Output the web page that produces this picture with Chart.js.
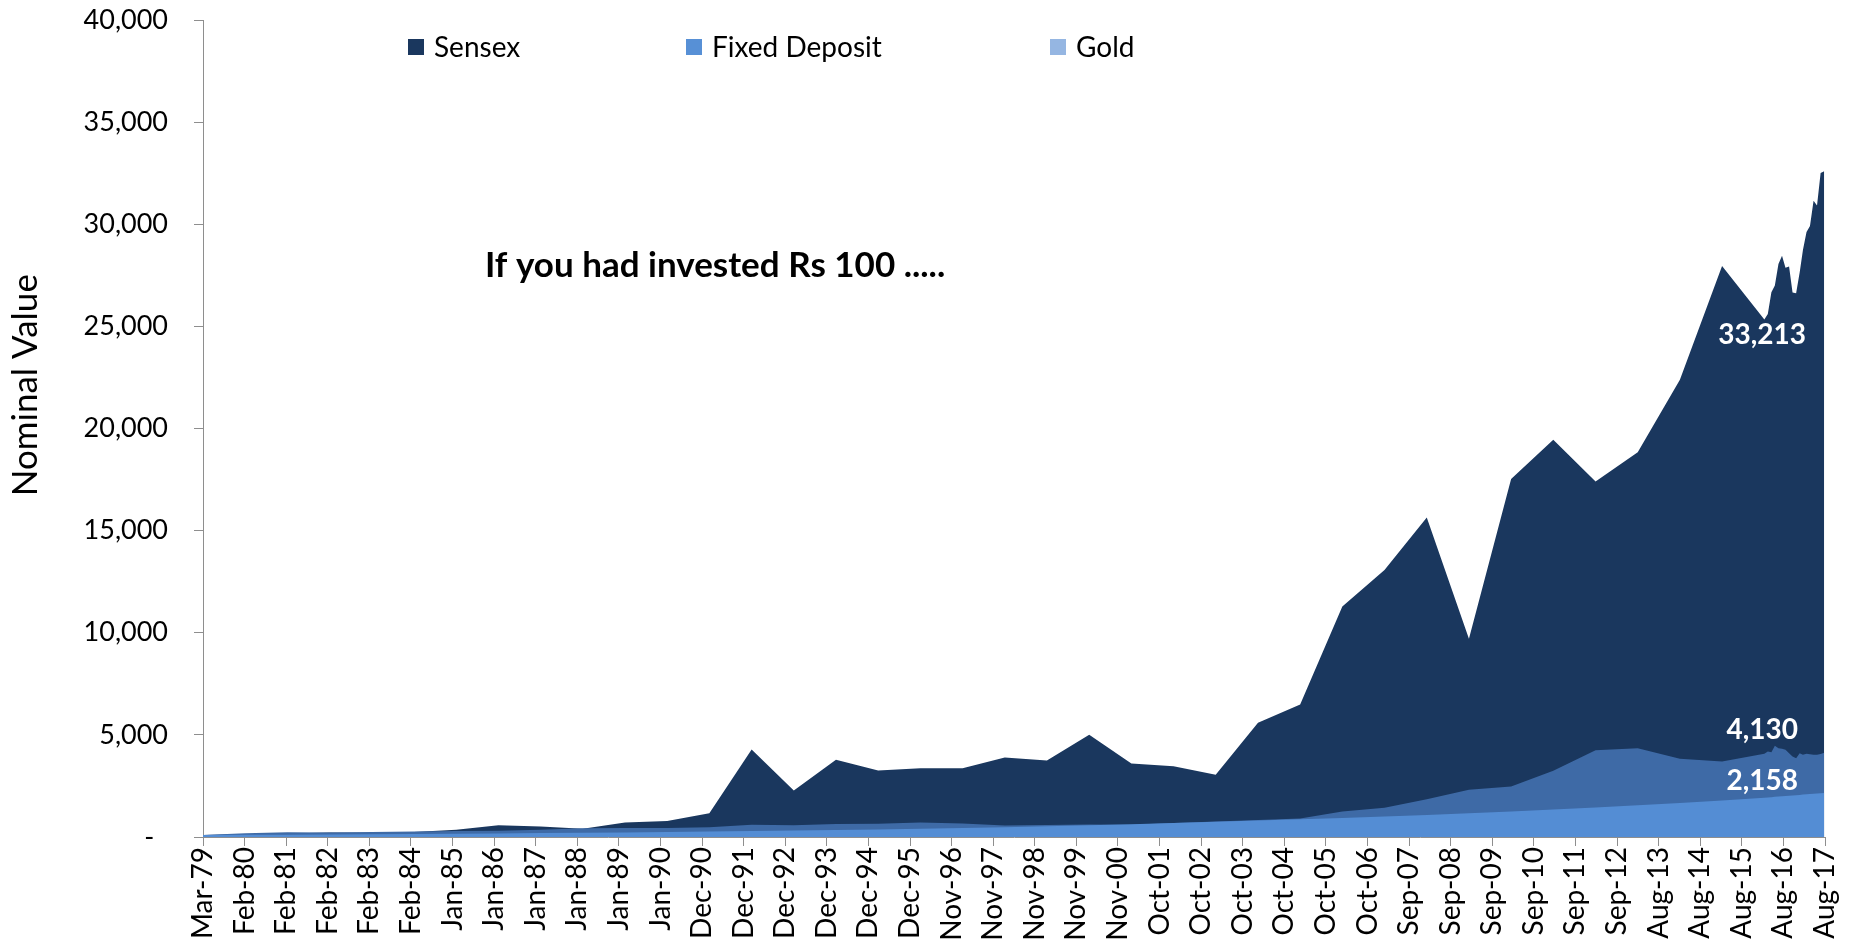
<!DOCTYPE html>
<html>
<head>
<meta charset="utf-8">
<title>If you had invested Rs 100</title>
<script src="https://cdn.jsdelivr.net/npm/chart.js@4.4.0/dist/chart.umd.min.js"></script>
<style>
  html, body { margin: 0; padding: 0; background: #fff; }
  canvas { display: block; }
</style>
</head>
<body>
<canvas id="chart" width="1849" height="946"></canvas>
<script>
// Observation dates: end of March each year, then monthly from Apr-16
const dates = [
  '1979-03', '1980-03', '1981-03', '1982-03', '1983-03', '1984-03', '1985-03', '1986-03',
  '1987-03', '1988-03', '1989-03', '1990-03', '1991-03', '1992-03', '1993-03', '1994-03',
  '1995-03', '1996-03', '1997-03', '1998-03', '1999-03', '2000-03', '2001-03', '2002-03',
  '2003-03', '2004-03', '2005-03', '2006-03', '2007-03', '2008-03', '2009-03', '2010-03',
  '2011-03', '2012-03', '2013-03', '2014-03', '2015-03', '2016-03',
  '2016-04', '2016-05', '2016-06', '2016-07', '2016-08', '2016-09', '2016-10', '2016-11',
  '2016-12', '2017-01', '2017-02', '2017-03', '2017-04', '2017-05', '2017-06', '2017-07',
  '2017-08'
];

// Value of Rs 100 invested in Mar-79
const sensex = [
  100, 129, 173, 218, 212, 245, 354, 574, 510, 398, 714, 781, 1168, 4285, 2281, 3779,
  3261, 3367, 3361, 3893, 3740, 5001, 3604, 3469, 3049, 5591, 6493, 11280, 13072, 15644,
  9709, 17528, 19445, 17404, 18836, 22386, 27957, 25342,
  25607, 26668, 26999, 28052, 28452, 27866, 27930, 26653, 26626, 27656, 28743, 29621,
  29918, 31146, 30922, 32515, 32600
];
const fixedDeposit = [
  100, 108, 116, 125, 135, 148, 161, 175, 190, 206, 224, 244, 266, 290, 316, 342,
  373, 406, 443, 483, 526, 574, 625, 682, 743, 810, 871, 936, 1006, 1082,
  1163, 1250, 1344, 1445, 1553, 1664, 1790, 1925,
  1938, 1952, 1966, 1979, 1993, 2007, 2021, 2034, 2048, 2062, 2075, 2089,
  2103, 2117, 2130, 2144, 2158
];
const gold = [
  100, 185, 230, 225, 250, 275, 290, 300, 350, 430, 435, 445, 480, 600, 575, 640,
  650, 715, 655, 560, 590, 610, 600, 690, 760, 830, 900, 1250, 1430, 1850,
  2315, 2477, 3245, 4250, 4350, 3832, 3700, 4077,
  4190, 4150, 4468, 4350, 4320, 4272, 4100, 3945, 3860, 4100, 4030, 4080,
  4050, 4030, 4030, 4060, 4130
];

// Excel date axis: one label every 360 days from the first date
const tickLabels = [
  'Mar-79', 'Feb-80', 'Feb-81', 'Feb-82', 'Feb-83', 'Feb-84', 'Jan-85', 'Jan-86', 'Jan-87', 'Jan-88',
  'Jan-89', 'Jan-90', 'Dec-90', 'Dec-91', 'Dec-92', 'Dec-93', 'Dec-94', 'Dec-95', 'Nov-96', 'Nov-97',
  'Nov-98', 'Nov-99', 'Nov-00', 'Oct-01', 'Oct-02', 'Oct-03', 'Oct-04', 'Oct-05', 'Oct-06', 'Sep-07',
  'Sep-08', 'Sep-09', 'Sep-10', 'Sep-11', 'Sep-12', 'Aug-13', 'Aug-14', 'Aug-15', 'Aug-16', 'Aug-17'
];
const tickStepDays = 360;

const seriesNames = ['Sensex', 'Fixed Deposit', 'Gold'];
const endLabels = ['33,213', '2,158', '4,130'];
const yTitle = 'Nominal Value';
const note = 'If you had invested Rs 100 .....';

const fontFamily = 'Lato, "Open Sans", sans-serif';
const axisGray = '#8e8e8e';
const colors = {
  sensex: '#1a375e',
  fd: '#548dd4',
  gold: '#3e6aa6',
  fdKey: '#5790d6',
  goldKey: '#95b6e2'
};

// days since the first observation (last day of each month)
function dayOf(d) {
  const [y, m] = d.split('-').map(Number);
  return Date.UTC(y, m, 0) / 86400000;
}
const day0 = dayOf(dates[0]);
const xs = dates.map(d => dayOf(d) - day0);
const toPoints = vals => vals.map((v, i) => ({ x: xs[i], y: v }));

// Excel-style labels, legend, title and note drawn on top of the chart
const overlay = {
  id: 'overlay',
  afterDraw(chart) {
    const { ctx, chartArea: a, scales: { x, y } } = chart;
    ctx.save();
    ctx.fillStyle = '#000';

    // y axis title (sits a bit above the middle as in the original)
    ctx.save();
    ctx.translate(26, a.top + (a.bottom - a.top) * 0.447);
    ctx.rotate(-Math.PI / 2);
    ctx.font = `35px ${fontFamily}`;
    ctx.textAlign = 'center';
    ctx.textBaseline = 'middle';
    ctx.fillText(yTitle, 0, 0);
    ctx.restore();

    // note
    ctx.font = `bold 35px ${fontFamily}`;
    ctx.textAlign = 'left';
    ctx.textBaseline = 'middle';
    ctx.fillText(note, a.left + 282, a.top + 246);

    // legend row
    const keyX = [205, 483, 847];
    const keyColors = [colors.sensex, colors.fdKey, colors.goldKey];
    ctx.font = `28px ${fontFamily}`;
    seriesNames.forEach((name, i) => {
      const bx = a.left + keyX[i];
      const by = a.top + 27;
      ctx.fillStyle = keyColors[i];
      ctx.fillRect(bx, by - 8, 16, 16);
      ctx.fillStyle = '#000';
      ctx.fillText(name, bx + 26, by + 1);
    });

    // end-value labels, white bold, placed left of the last point
    const last = xs.length - 1;
    const px = x.getPixelForValue(xs[last]) - 62;
    const ends = [
      [endLabels[0], sensex[last], 164],
      [endLabels[1], fixedDeposit[last], -12],
      [endLabels[2], gold[last], -23]
    ];
    ctx.font = `bold 28px ${fontFamily}`;
    ctx.textAlign = 'center';
    ctx.fillStyle = '#fff';
    ends.forEach(([txt, v, dy]) => ctx.fillText(txt, px, y.getPixelForValue(v) + dy));
    ctx.restore();
  }
};

// datasets listed front-to-back: Chart.js paints index 0 last, so Sensex ends up behind
new Chart(document.getElementById('chart'), {
  type: 'line',
  data: {
    datasets: [
      { label: seriesNames[1], data: toPoints(fixedDeposit), backgroundColor: colors.fd, fill: 'origin' },
      { label: seriesNames[2], data: toPoints(gold), backgroundColor: colors.gold, fill: 'origin' },
      { label: seriesNames[0], data: toPoints(sensex), backgroundColor: colors.sensex, fill: 'origin' }
    ]
  },
  options: {
    responsive: false,
    animation: false,
    events: [],
    layout: { padding: { top: 20, right: 24, left: 0, bottom: 0 } },
    elements: {
      point: { radius: 0 },
      line: { borderWidth: 0, tension: 0 }
    },
    plugins: {
      legend: { display: false },
      tooltip: { enabled: false }
    },
    scales: {
      x: {
        type: 'linear',
        min: 0,
        max: (tickLabels.length - 1) * tickStepDays,
        afterBuildTicks: s => {
          s.ticks = tickLabels.map((_, k) => ({ value: k * tickStepDays }));
        },
        // fixed band height; label overhang is covered by the layout padding
        afterFit: s => { s.height = 109; s.paddingLeft = 0; s.paddingRight = 0; },
        ticks: {
          autoSkip: false,
          minRotation: 90,
          maxRotation: 90,
          padding: 1,
          color: '#000',
          font: { family: fontFamily, size: 28 },
          callback: (v, i) => tickLabels[i]
        },
        grid: { drawOnChartArea: false, drawTicks: true, tickLength: 9, color: axisGray },
        border: { display: true, color: axisGray, width: 1 }
      },
      y: {
        min: 0,
        max: 40000,
        afterFit: s => { s.width = 203; s.paddingTop = 0; s.paddingBottom = 0; },
        ticks: {
          stepSize: 5000,
          padding: 26,
          color: '#000',
          font: { family: fontFamily, size: 27 },
          callback: v => v === 0 ? '-  ' : v.toLocaleString('en-US')
        },
        grid: { drawOnChartArea: false, drawTicks: true, tickLength: 9, color: axisGray },
        border: { display: true, color: axisGray, width: 1 }
      }
    }
  },
  plugins: [overlay]
});
</script>
</body>
</html>
